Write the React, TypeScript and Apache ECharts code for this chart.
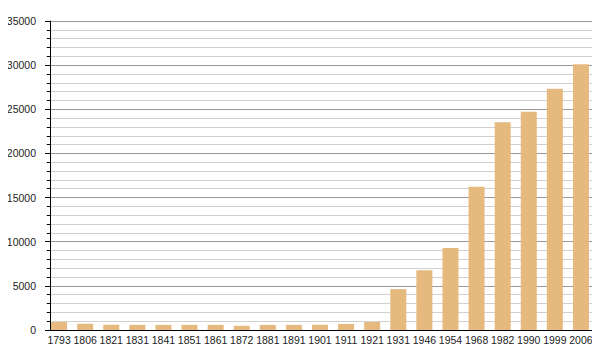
import React, { useEffect, useRef } from "react";
import * as echarts from "echarts";

const years = ["1793","1806","1821","1831","1841","1851","1861","1872","1881","1891","1901","1911","1921","1931","1946","1954","1968","1982","1990","1999","2006"];
const population = [900, 710, 600, 580, 580, 580, 580, 480, 580, 580, 590, 680, 900, 4630, 6770, 9290, 16230, 23520, 24730, 27320, 30100];
const yTicks = { max: 35000, interval: 5000 };

export default function App() {
  const ref = useRef<HTMLDivElement>(null);
  useEffect(() => {
    if (!ref.current) return;
    const chart = echarts.init(ref.current, undefined, { renderer: "svg" });
    chart.setOption({
      animation: false,
      grid: { left: 46, right: 6, top: 21, bottom: 30 },
      xAxis: {
        type: "category",
        data: years,
        axisLine: { lineStyle: { color: "#000", width: 1 } },
        axisTick: { show: false },
        axisLabel: { color: "#222", fontSize: 10.5, fontFamily: "Liberation Sans, Arial, sans-serif", margin: 4, interval: 0 },
      },
      yAxis: {
        type: "value",
        min: 0,
        max: yTicks.max,
        interval: yTicks.interval,
        offset: -4,
        axisLine: { show: true, lineStyle: { color: "#000", width: 1 } },
        axisTick: { show: true, length: 5, lineStyle: { color: "#000" } },
        minorTick: { show: true, splitNumber: 5, length: 3, lineStyle: { color: "#000" } },
        axisLabel: {
          color: "#222",
          fontSize: 10.5,
          fontFamily: "Liberation Sans, Arial, sans-serif",
          margin: 14,
          formatter: (v: number) => String(v),
        },
        splitLine: { show: true, lineStyle: { color: "#999", width: 1 } },
        minorSplitLine: { show: true, lineStyle: { color: "#d0d0d0", width: 1 } },
      },
      series: [
        {
          type: "bar",
          data: population,
          barWidth: 16,
          itemStyle: { color: "#e6b97f" },
        },
      ],
    });
    return () => chart.dispose();
  }, []);
  return <div ref={ref} style={{ width: 600, height: 360, margin: -8 }} />;
}
